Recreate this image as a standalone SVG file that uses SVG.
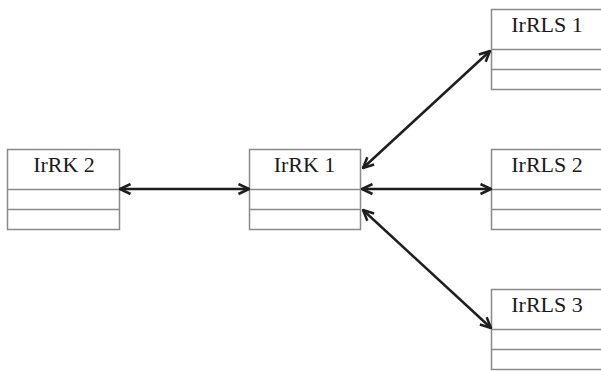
<svg xmlns="http://www.w3.org/2000/svg" width="601" height="371" viewBox="0 0 601 371">
  <style>
    .box { fill: #ffffff; stroke: #8a8a8a; stroke-width: 1.5; }
    .sep { stroke: #8a8a8a; stroke-width: 1.5; }
    .label { font-family: "Liberation Serif", "Times New Roman", serif; font-size: 22px; fill: #1a1a1a; text-anchor: middle; }
    .link { stroke: #1e1e1e; stroke-width: 2.5; fill: none; marker-start: url(#arrow); marker-end: url(#arrow); }
  </style>
  <defs>
    <!-- open V arrowhead, reused at both ends of every link -->
    <marker id="arrow" viewBox="0 0 13 13" refX="12" refY="6.5" markerWidth="13" markerHeight="13" markerUnits="userSpaceOnUse" orient="auto-start-reverse">
      <path d="M1.5,1.5 L12,6.5 L1.5,11.5" fill="none" stroke="#1e1e1e" stroke-width="2.5" stroke-linejoin="miter"/>
    </marker>
  </defs>
  <rect width="601" height="371" fill="#ffffff"/>

  <g id="IrRK2">
    <rect class="box" x="7.5" y="149.5" width="112" height="80"/>
    <line class="sep" x1="7.5" y1="189.5" x2="119.5" y2="189.5"/>
    <line class="sep" x1="7.5" y1="209.5" x2="119.5" y2="209.5"/>
    <text class="label" x="64" y="172">IrRK 2</text>
  </g>

  <g id="IrRK1">
    <rect class="box" x="249.5" y="149.5" width="111" height="80"/>
    <line class="sep" x1="249.5" y1="189.5" x2="360.5" y2="189.5"/>
    <line class="sep" x1="249.5" y1="209.5" x2="360.5" y2="209.5"/>
    <text class="label" x="304.5" y="172">IrRK 1</text>
  </g>

  <g id="IrRLS1">
    <rect class="box" x="491.5" y="9.5" width="112" height="80"/>
    <line class="sep" x1="491.5" y1="49.5" x2="603.5" y2="49.5"/>
    <line class="sep" x1="491.5" y1="69.5" x2="603.5" y2="69.5"/>
    <text class="label" x="547" y="32">IrRLS 1</text>
  </g>

  <g id="IrRLS2">
    <rect class="box" x="491.5" y="149.5" width="112" height="80"/>
    <line class="sep" x1="491.5" y1="189.5" x2="603.5" y2="189.5"/>
    <line class="sep" x1="491.5" y1="209.5" x2="603.5" y2="209.5"/>
    <text class="label" x="547" y="172">IrRLS 2</text>
  </g>

  <g id="IrRLS3">
    <rect class="box" x="491.5" y="289.5" width="112" height="80"/>
    <line class="sep" x1="491.5" y1="329.5" x2="603.5" y2="329.5"/>
    <line class="sep" x1="491.5" y1="349.5" x2="603.5" y2="349.5"/>
    <text class="label" x="547" y="312">IrRLS 3</text>
  </g>

  <g id="connectors">
    <line class="link" x1="120" y1="189" x2="249" y2="189"/>
    <line class="link" x1="362" y1="189" x2="491" y2="189"/>
    <line class="link" x1="363" y1="168" x2="490" y2="51"/>
    <line class="link" x1="363" y1="210" x2="491" y2="328"/>
  </g>
</svg>
